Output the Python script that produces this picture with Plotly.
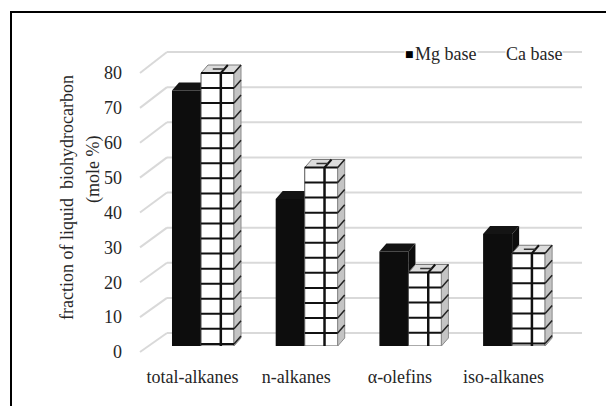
import plotly.graph_objects as go

# ---------------- data ----------------
categories = ["total-alkanes", "n-alkanes", "\u03b1-olefins", "iso-alkanes"]
mg_base = [73, 42, 27, 32]
ca_base = [78, 51, 21, 26.5]
y_ticks = [0, 10, 20, 30, 40, 50, 60, 70, 80]
series_names = ["Mg base", "Ca base"]
y_title = ["fraction of liquid  biohydrocarbon", "(mole %)"]

# ---------------- geometry (window pixels) ----------------
OFF = 8                    # page body margin
W, H = 606, 398            # figure size
FONT = "Liberation Serif, Times New Roman, serif"
TXT = "#262626"

CAT_PX = 103.7            # pixels per category
PAIR0 = 203.0             # pixel centre of the first bar pair (front plane)
LABEL0 = 192.5            # pixel centre of first category label
Y0_PX, YK = 346.0, 3.5    # bar plane: value 0 at 346 px, 3.5 px per unit
YMAX = 85
FRONT0, FRONTK = 352.0, 3.4875   # front edge of side wall
BACK0, BACKK = 333.0, 3.5125     # back wall
WALL_L, WALL_B, WALL_R = 140.0, 167.0, 582.0

def fx(p):
    return (p - OFF) / W

def fy(p):
    return 1 - (p - OFF) / H

x_dom = [PAIR0 - 0.5 * CAT_PX, PAIR0 + 3.5 * CAT_PX]
y_dom_top = Y0_PX - YMAX * YK
lab_dom = [LABEL0 - 0.5 * CAT_PX, LABEL0 + 3.5 * CAT_PX]

# depth of the 3-D blocks, converted to data units
DX = 7.0 / CAT_PX
DY = 8.0 / YK

MG_OFF, MG_W = -0.299, 0.28
CA_OFF, CA_W = -0.019, 0.318

idx = list(range(len(categories)))

fig = go.Figure()
fig.add_trace(go.Bar(x=idx, y=mg_base, name=series_names[0], offset=MG_OFF, width=MG_W,
                     marker=dict(color="#0d0d0d", line=dict(width=0)), showlegend=False))
fig.add_trace(go.Bar(x=idx, y=ca_base, name=series_names[1], offset=CA_OFF, width=CA_W,
                     marker=dict(color="white", line=dict(color="#555555", width=1)),
                     showlegend=False))
# empty trace that carries the front-plane label axes
fig.add_trace(go.Scatter(x=[None], y=[None], xaxis="x3", yaxis="y3", mode="markers",
                         showlegend=False, hoverinfo="skip"))

shapes = []

# outer frame (left and top edges visible)
shapes.append(dict(type="rect", xref="paper", yref="paper", x0=fx(11), x1=fx(640),
                   y0=fy(440), y1=fy(12), line=dict(color="black", width=2),
                   fillcolor="rgba(0,0,0,0)", layer="below"))

# back wall grid + side wall diagonals
for v in y_ticks:
    yb = BACK0 - v * BACKK
    yf = FRONT0 - v * FRONTK
    shapes.append(dict(type="line", xref="paper", yref="paper", x0=fx(WALL_B), x1=fx(WALL_R),
                       y0=fy(yb), y1=fy(yb), line=dict(color="#d9d9d9", width=2), layer="below"))
    shapes.append(dict(type="line", xref="paper", yref="paper", x0=fx(WALL_L), x1=fx(WALL_B),
                       y0=fy(yf), y1=fy(yb), line=dict(color="#d9d9d9", width=2), layer="below"))

def poly(pts):
    return "M " + " L ".join(f"{a:.5f},{b:.5f}" for a, b in pts) + " Z"

# Mg blocks: side and top faces (behind the Ca blocks)
for i, v in zip(idx, mg_base):
    L = i + MG_OFF
    R = L + MG_W
    shapes.append(dict(type="path", xref="x", yref="y", layer="below",
                       path=poly([(R, 0), (R, v), (R + DX, v + DY), (R + DX, DY)]),
                       fillcolor="#0d0d0d", line=dict(width=0)))
    shapes.append(dict(type="path", xref="x", yref="y", layer="below",
                       path=poly([(L, v), (R, v), (R + DX, v + DY), (L + DX, v + DY)]),
                       fillcolor="#141414", line=dict(width=0)))

# Ca blocks: side face, top face, grid texture
STEP = 4.3
for i, v in zip(idx, ca_base):
    L = i + CA_OFF
    R = L + CA_W
    xv = L + 0.6 * CA_W
    shapes.append(dict(type="path", xref="x", yref="y", layer="above",
                       path=poly([(R, 0), (R, v), (R + DX, v + DY), (R + DX, DY)]),
                       fillcolor="#c4c4c4", line=dict(color="#8c8c8c", width=1)))
    shapes.append(dict(type="path", xref="x", yref="y", layer="above",
                       path=poly([(L, v), (R, v), (R + DX, v + DY), (L + DX, v + DY)]),
                       fillcolor="#dcdcdc", line=dict(color="#7a7a7a", width=1)))
    h = v
    while h > 0.5:
        shapes.append(dict(type="line", xref="x", yref="y", layer="above",
                           x0=L, x1=R, y0=h, y1=h, line=dict(color="#111111", width=2)))
        shapes.append(dict(type="line", xref="x", yref="y", layer="above",
                           x0=R, x1=R + DX, y0=h, y1=h + DY, line=dict(color="#222222", width=1.5)))
        h -= STEP
    shapes.append(dict(type="line", xref="x", yref="y", layer="above",
                       x0=xv, x1=xv, y0=0, y1=v, line=dict(color="#111111", width=2.5)))
    shapes.append(dict(type="line", xref="x", yref="y", layer="above",
                       x0=xv, x1=xv + DX, y0=v, y1=v + DY, line=dict(color="#111111", width=2)))
    shapes.append(dict(type="line", xref="x", yref="y", layer="above",
                       x0=L + 0.25 * CA_W + DX / 2, x1=xv + DX / 2, y0=v + DY / 2, y1=v + DY / 2,
                       line=dict(color="#333333", width=1.5)))

annotations = [
    dict(xref="paper", yref="paper", x=fx(67), y=fy(198), xanchor="center", yanchor="middle",
         text=y_title[0], textangle=-90,
         showarrow=False, font=dict(family=FONT, size=18, color=TXT)),
    dict(xref="paper", yref="paper", x=fx(93), y=fy(170), xanchor="center", yanchor="middle",
         text=y_title[1], textangle=-90,
         showarrow=False, font=dict(family=FONT, size=18, color=TXT)),
    dict(xref="paper", yref="paper", x=fx(409), y=fy(54), xanchor="center", yanchor="middle",
         text="\u25a0", showarrow=False,
         font=dict(family="DejaVu Sans", size=9, color="black"), bgcolor="white", borderpad=0),
    dict(xref="paper", yref="paper", x=fx(414), y=fy(54), xanchor="left", yanchor="middle",
         text=series_names[0],
         showarrow=False, font=dict(family=FONT, size=18, color=TXT), bgcolor="white", borderpad=0),
    dict(xref="paper", yref="paper", x=fx(505), y=fy(54), xanchor="left", yanchor="middle",
         text=series_names[1],
         showarrow=False, font=dict(family=FONT, size=18, color=TXT), bgcolor="white", borderpad=0),
]

fig.update_layout(
    width=W, height=H,
    margin=dict(l=0, r=0, t=0, b=0, autoexpand=False),
    paper_bgcolor="white", plot_bgcolor="rgba(0,0,0,0)",
    barmode="overlay", showlegend=False,
    font=dict(family=FONT, size=18, color=TXT),
    xaxis=dict(domain=[fx(x_dom[0]), fx(x_dom[1])], range=[-0.5, 3.5], showgrid=False,
               zeroline=False, showline=False, showticklabels=False, ticks="", fixedrange=True),
    yaxis=dict(domain=[fy(Y0_PX), fy(y_dom_top)], range=[0, YMAX], showgrid=False,
               zeroline=False, showline=False, showticklabels=False, ticks="", fixedrange=True),
    xaxis3=dict(domain=[fx(lab_dom[0]), fx(lab_dom[1])], anchor="y3", side="bottom",
                range=[-0.5, 3.5], tickmode="array", tickvals=idx, ticktext=categories,
                ticks="outside", ticklen=8, tickcolor="rgba(0,0,0,0)",
                showgrid=False, zeroline=False, showline=False, fixedrange=True,
                tickfont=dict(family=FONT, size=18, color=TXT)),
    yaxis3=dict(domain=[fy(FRONT0), fy(FRONT0 - 80 * FRONTK)], anchor="x3", side="left",
                range=[0, 80], tickmode="array", tickvals=y_ticks,
                ticks="outside", ticklen=14, tickcolor="rgba(0,0,0,0)",
                showgrid=False, zeroline=False, showline=False, fixedrange=True,
                tickfont=dict(family=FONT, size=18, color=TXT)),
    shapes=shapes,
    annotations=annotations,
)

fig.write_html("out.html")
